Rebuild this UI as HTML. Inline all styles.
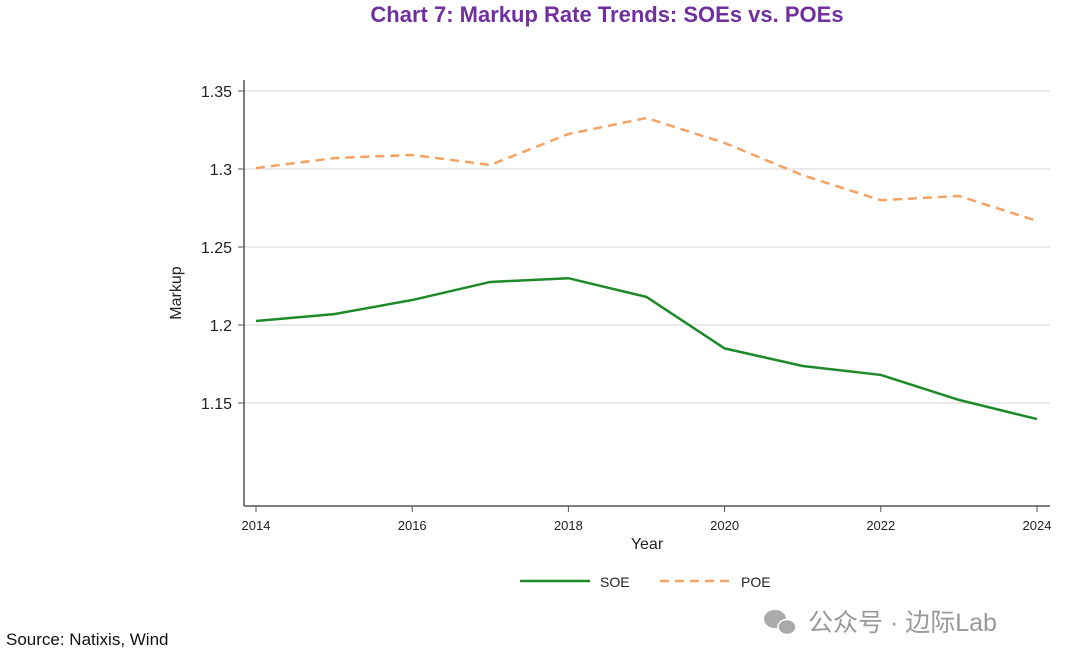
<!DOCTYPE html>
<html><head><meta charset="utf-8">
<style>
body{margin:0;background:#fff;width:1080px;height:665px;overflow:hidden;font-family:"Liberation Sans","Noto Sans CJK SC",sans-serif;}
</style></head>
<body>
<svg id="chart" width="1080" height="665" xmlns="http://www.w3.org/2000/svg">
<text x="607" y="22" text-anchor="middle" font-size="22" font-weight="bold" fill="#7030a0">Chart 7: Markup Rate Trends: SOEs vs. POEs</text>
<g id="grid"></g>
<line x1="244" y1="80" x2="244" y2="506" stroke="#555" stroke-width="1.5"/>
<line x1="244" y1="506" x2="1050" y2="506" stroke="#555" stroke-width="1.5"/>
<g id="ticks"></g>
<g id="series"></g>
<text x="181" y="293" text-anchor="middle" font-size="16" fill="#222" transform="rotate(-90 181 293)">Markup</text>
<text x="647" y="549" text-anchor="middle" font-size="16" fill="#222">Year</text>
<g>
<line x1="520" y1="581" x2="590" y2="581" stroke="#1e8a2a" stroke-width="2.5"/>
<text x="600" y="587" font-size="14" fill="#222">SOE</text>
<line x1="660" y1="581" x2="730" y2="581" stroke="#f4a261" stroke-width="2.5" stroke-dasharray="9,6"/>
<text x="741" y="587" font-size="14" fill="#222">POE</text>
</g>
<text x="6" y="645" font-size="17" fill="#111">Source: Natixis, Wind</text>
<g>
<ellipse cx="775" cy="619" rx="11" ry="9" fill="#aaa"/>
<ellipse cx="787" cy="627" rx="9" ry="7.5" fill="#aaa" stroke="#fff" stroke-width="1.5"/>
</g>
<text x="808" y="631" font-size="25" fill="#999">公众号 · 边际Lab</text>
</svg>
<script>
const years=[2014,2015,2016,2017,2018,2019,2020,2021,2022,2023,2024];
const soe=[1.2026,1.207,1.216,1.2276,1.230,1.218,1.185,1.1737,1.168,1.152,1.1397];
const poe=[1.3006,1.307,1.309,1.3026,1.3224,1.3327,1.3167,1.296,1.280,1.2827,1.2667];
const yTicks=[1.15,1.2,1.25,1.3,1.35];
const yTickLabels=["1.15","1.2","1.25","1.3","1.35"];
const xTicks=[2014,2016,2018,2020,2022,2024];
const NS="http://www.w3.org/2000/svg";
function xs(v){return 256+(v-2014)*78.1;}
function ys(v){return 325-(v-1.2)*1560;}
function mk(tag,attrs,parent){const e=document.createElementNS(NS,tag);for(const k in attrs)e.setAttribute(k,attrs[k]);document.getElementById(parent).appendChild(e);return e;}
yTicks.forEach((t,i)=>{
 const g=mk('line',{x1:244,x2:1050,y1:ys(t),y2:ys(t),stroke:'#e3e3e3','stroke-width':1.5},'grid');
 
 
 const tk=mk('line',{x1:238,x2:244,y1:ys(t),y2:ys(t),stroke:'#555'},'ticks');
 
 
 const l=mk('text',{x:232,y:ys(t)+6,'text-anchor':'end','font-size':16,fill:'#222'},'ticks');
 l.textContent=yTickLabels[i];
 
 
});
xTicks.forEach(t=>{
 const tk=mk('line',{x1:xs(t),x2:xs(t),y1:506,y2:512,stroke:'#555'},'ticks');
 
 
 const l=mk('text',{x:xs(t),y:530,'text-anchor':'middle','font-size':13,fill:'#222'},'ticks');
 l.textContent=t;
 
 
});
const pts=a=>a.map((v,i)=>xs(years[i])+','+ys(v)).join(' ');
const p1=mk('polyline',{points:pts(poe),fill:'none',stroke:'#f4a261','stroke-width':2.5,'stroke-dasharray':'9,6'},'series');


const p2=mk('polyline',{points:pts(soe),fill:'none',stroke:'#1e8a2a','stroke-width':2.5},'series');


</script>
</body></html>
